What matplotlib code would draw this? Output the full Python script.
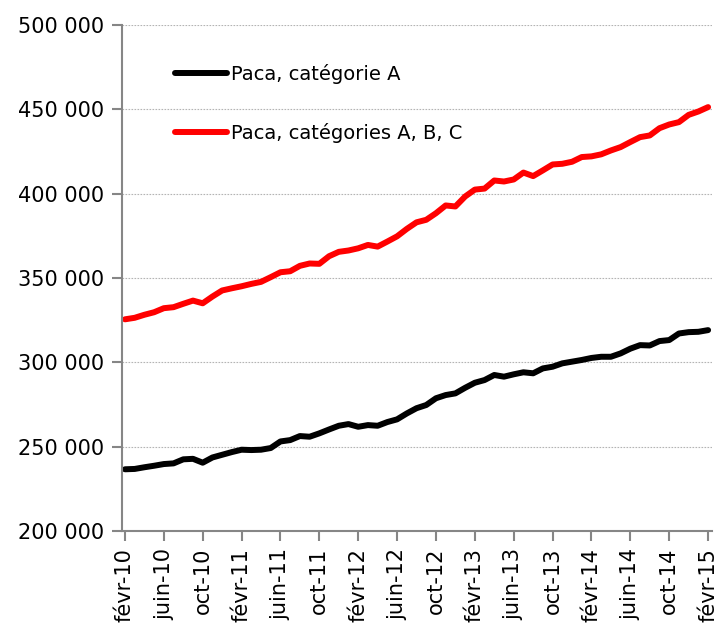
import matplotlib.pyplot as plt
import matplotlib.ticker as mticker

# monthly figures, févr-2010 .. févr-2015
cat_a = [236600, 236800, 237800, 238700, 239700, 240100, 242500, 242800, 240500, 243600,
         245200, 246800, 248200, 248000, 248200, 249200, 253100, 253900, 256300, 255900,
         257900, 260200, 262400, 263400, 261800, 262800, 262400, 264600, 266200, 269700,
         272800, 274700, 278700, 280600, 281600, 284900, 287900, 289500, 292500, 291500,
         292900, 294100, 293500, 296400, 297400, 299400, 300400, 301400, 302600, 303300,
         303300, 305300, 308100, 310200, 310000, 312600, 313200, 317100, 317900, 318100,
         319100]
cat_abc = [325500, 326400, 328200, 329700, 332100, 332700, 334700, 336600, 335000, 339000,
           342600, 343900, 345100, 346500, 347700, 350500, 353400, 354000, 357200, 358600,
           358400, 362900, 365500, 366300, 367600, 369600, 368600, 371600, 374700, 379100,
           383000, 384500, 388400, 393000, 392400, 398300, 402400, 403000, 407800, 407200,
           408400, 412500, 410400, 413800, 417300, 417700, 418900, 421700, 422100, 423300,
           425600, 427600, 430600, 433500, 434500, 438800, 441000, 442400, 446700, 448700,
           451300]
tick_labels = ["févr-10", "juin-10", "oct-10", "févr-11", "juin-11", "oct-11",
               "févr-12", "juin-12", "oct-12", "févr-13", "juin-13", "oct-13",
               "févr-14", "juin-14", "oct-14", "févr-15"]
yticks = [200000, 250000, 300000, 350000, 400000, 450000, 500000]

plt.rcParams['font.family'] = ['DejaVu Sans']

fig = plt.figure(figsize=(7.17, 6.24), dpi=100)
ax = fig.add_axes([0.1702, 0.149, 0.8228, 0.811])

x = list(range(len(cat_a)))
ax.plot(x, cat_a, color='black', lw=4.3, solid_capstyle='round', label='Paca, catégorie A')
ax.plot(x, cat_abc, color='#ff0000', lw=4.3, solid_capstyle='round', label='Paca, catégories A, B, C')

ax.set_xlim(-0.3, 60.4)
ax.set_ylim(200000, 500000)
ax.set_yticks(yticks)
ax.yaxis.set_major_formatter(mticker.FuncFormatter(lambda v, p: f"{int(v):,}".replace(",", " ")))
ax.set_xticks(list(range(0, 61, 4)))
ax.set_xticklabels(tick_labels, rotation=90)

for v in yticks[1:]:
    ax.axhline(v, color='#b4b4b4', lw=0.8, ls=(0, (1.5, 1.2)), zorder=0)

for s in ['top', 'right']:
    ax.spines[s].set_visible(False)
for s in ['left', 'bottom']:
    ax.spines[s].set_color('#868686')
    ax.spines[s].set_linewidth(1.5)
ax.tick_params(axis='both', colors='#868686', length=7, width=1.5, labelcolor='black')
ax.tick_params(axis='y', labelsize=15, pad=6)
ax.tick_params(axis='x', labelsize=15, pad=5)

leg = ax.legend(loc='upper left', bbox_to_anchor=(0.06, 0.957), frameon=False,
                fontsize=14, handlelength=2.7, handletextpad=0.2, labelspacing=2.0)

fig.savefig('out.png', dpi=100)
